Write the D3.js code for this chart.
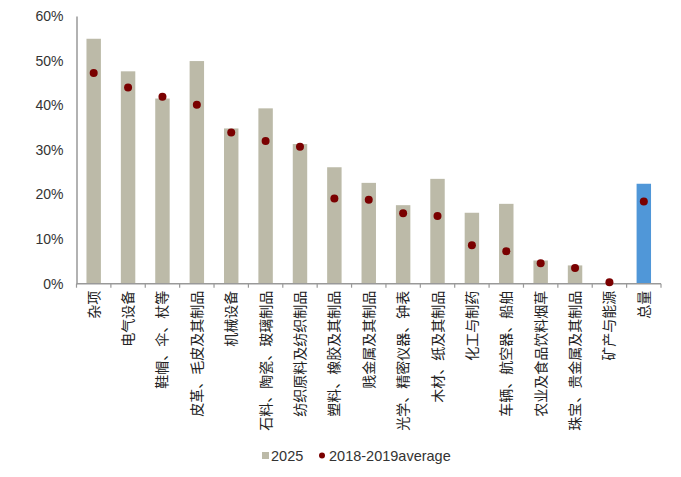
<!DOCTYPE html>
<html><head><meta charset="utf-8">
<script src="https://cdn.jsdelivr.net/npm/d3@7/dist/d3.min.js"></script>
<style>body{margin:0;background:#fff}</style>
</head><body><svg id="c" width="681" height="477"></svg>
<script>
const categories = ["杂项","电气设备","鞋帽、伞、杖等","皮革、毛皮及其制品","机械设备","石料、陶瓷、玻璃制品","纺织原料及纺织制品","塑料、橡胶及其制品","贱金属及其制品","光学、精密仪器、钟表","木材、纸及其制品","化工与制药","车辆、航空器、船舶","农业及食品饮料烟草","珠宝、贵金属及其制品","矿产与能源","总量"];
const values2025 = [54.9,47.6,41.5,49.9,34.8,39.3,31.3,26.1,22.6,17.6,23.5,15.9,17.9,5.2,4.1,0,22.4];
const avg2018_2019 = [47.2,44.0,41.9,40.1,33.9,32.0,30.7,19.1,18.8,15.8,15.2,8.6,7.3,4.6,3.5,0.3,18.4];
const yTicks = [0,10,20,30,40,50,60];
const seriesNames = ["2025","2018-2019average"];

(function(){
const svg = d3.select("#c");
const mLeft = 76.5, mRight = 661, mTop = 16, mBottom = 283.7;
const x = d3.scaleBand().domain(categories).range([mLeft, mRight]).paddingInner(0.58).paddingOuter(0.29);
const xb = d3.scaleBand().domain(categories).range([mLeft, mRight]);
const y = d3.scaleLinear().domain([0,60]).range([mBottom, mTop]);
const font = "Liberation Sans, Arial, sans-serif";

svg.append("g").selectAll("rect").data(categories).join("rect")
  .attr("x", d => x(d)).attr("width", x.bandwidth())
  .attr("y", (d,i) => y(values2025[i])).attr("height", (d,i) => y(0) - y(values2025[i]))
  .attr("fill", (d,i) => i === categories.length-1 ? "#5097D8" : "#BCBAA8");

const ya = svg.append("g").attr("transform", `translate(${mLeft},0)`)
  .call(d3.axisLeft(y).tickValues(yTicks).tickSize(0).tickPadding(13).tickFormat(d => d + "%"));
ya.select(".domain").attr("stroke", "#999").attr("stroke-width", 1.5);
ya.selectAll("text").attr("font-family", font).attr("font-size", 14).attr("fill", "#333");

const xa = svg.append("g").attr("transform", `translate(0,${mBottom})`);
xa.append("line").attr("x1", mLeft).attr("x2", mRight).attr("stroke", "#999").attr("stroke-width", 1.5);
const bounds = categories.map(d => xb(d)).concat([mRight]);
xa.selectAll("line.t").data(bounds).join("line").attr("class","t")
  .attr("x1", d => d).attr("x2", d => d).attr("y1", 0).attr("y2", 4)
  .attr("stroke", "#999").attr("stroke-width", 1.2);
xa.selectAll("text").data(categories).join("text")
  .attr("transform", d => `translate(${xb(d) + xb.bandwidth()/2 + 5},7) rotate(-90)`)
  .attr("text-anchor", "end")
  .attr("font-family", "Noto Sans CJK SC, sans-serif").attr("font-size", 14)
  .attr("fill", "#222").text(d => d);

svg.append("g").selectAll("circle").data(categories).join("circle")
  .attr("cx", d => xb(d) + xb.bandwidth()/2)
  .attr("cy", (d,i) => y(avg2018_2019[i])).attr("r", 4)
  .attr("fill", "#7A0000");

const lg = svg.append("g").attr("font-family", font).attr("font-size", 14.5).attr("fill", "#333");
lg.append("rect").attr("x", 262).attr("y", 452).attr("width", 7).attr("height", 7).attr("fill", "#BCBAA8");
lg.append("text").attr("x", 271).attr("y", 461).text(seriesNames[0]);
lg.append("circle").attr("cx", 322).attr("cy", 455.5).attr("r", 3).attr("fill", "#7A0000");
lg.append("text").attr("x", 329).attr("y", 461).text(seriesNames[1]);
})();
</script></body></html>
